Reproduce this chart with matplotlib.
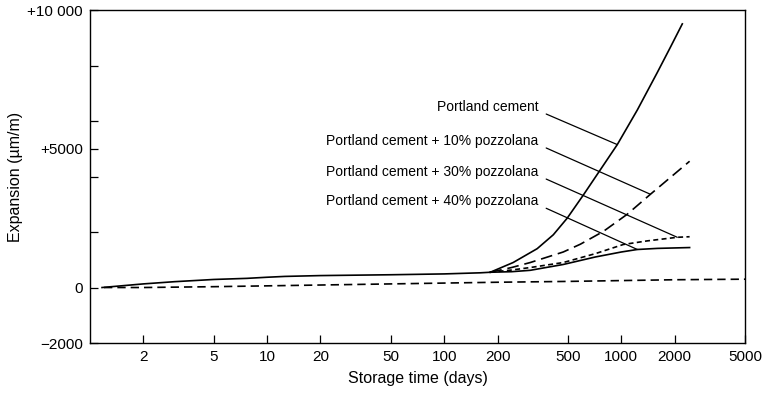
import numpy as np
import matplotlib
matplotlib.use("Agg")
import matplotlib.pyplot as plt
from matplotlib.ticker import FixedLocator, FixedFormatter, NullLocator

plt.rcParams['font.family'] = ['Liberation Sans', 'DejaVu Sans']

# common early part (all mixes together)
base_days = [1.17, 1.5, 2, 3, 5, 7.7, 10, 12.6, 20, 50, 100, 160, 182]
base_vals = [0, 60, 130, 210, 290, 330, 370, 400, 430, 460, 490, 530, 550]

pc_days = [182, 245, 335, 413, 495, 610, 791, 949, 1232, 1597, 1890, 2210]
pc_vals = [550, 900, 1400, 1900, 2500, 3330, 4400, 5150, 6400, 7750, 8650, 9500]

p10_days = [182, 240, 306, 470, 587, 791, 1080, 1460, 2430]
p10_vals = [550, 720, 900, 1280, 1560, 2020, 2640, 3360, 4550]

p30_days = [182, 240, 306, 470, 713, 1026, 1400, 2070, 2430]
p30_vals = [550, 630, 720, 900, 1220, 1550, 1680, 1810, 1830]

p40_days = [182, 240, 306, 470, 713, 1000, 1230, 1600, 2430]
p40_vals = [550, 570, 620, 830, 1100, 1280, 1370, 1410, 1440]

# lower dashed curve
low_days = [1.2, 2, 5, 10, 20, 50, 100, 200, 500, 1000, 2000, 5000]
low_vals = [0, 0, 30, 60, 90, 130, 160, 190, 220, 250, 280, 300]

labels = ["Portland cement", "Portland cement + 10% pozzolana",
          "Portland cement + 30% pozzolana", "Portland cement + 40% pozzolana"]
label_pos = [(340, 6500), (340, 5280), (340, 4160), (340, 3110)]
leader_end = [(949, 5150), (1460, 3360), (2070, 1810), (1232, 1370)]

xticks = [2, 5, 10, 20, 50, 100, 200, 500, 1000, 2000, 5000]
yticks = [-2000, 0, 2000, 4000, 5000, 6000, 8000, 10000]
ylabels = ["\u22122000", "0", "", "", "+5000", "", "", "+10 000"]

fig = plt.figure(figsize=(7.65, 3.94), dpi=100)
ax = fig.add_axes([0.1176, 0.1294, 0.974 - 0.1176, 0.9746 - 0.1294])

lw = 1.2
ax.plot(base_days, base_vals, color='black', lw=lw)
ax.plot(pc_days, pc_vals, color='black', lw=lw)
ax.plot(p10_days, p10_vals, color='black', lw=lw, dashes=(7, 3.5))
ax.plot(p30_days, p30_vals, color='black', lw=lw, dashes=(3, 2))
ax.plot(p40_days, p40_vals, color='black', lw=lw)
ax.plot(low_days, low_vals, color='black', lw=lw, dashes=(5, 3))

for lab, pos, end in zip(labels, label_pos, leader_end):
    ax.annotate(lab, xy=end, xytext=pos, ha='right', va='center', fontsize=10,
                arrowprops=dict(arrowstyle='-', lw=0.9, color='black',
                                relpos=(1.0, 0.25), shrinkA=4, shrinkB=0))

ax.set_xscale('log')
ax.set_xlim(1, 5000)
ax.set_ylim(-2000, 10000)
ax.xaxis.set_major_locator(FixedLocator(xticks))
ax.xaxis.set_major_formatter(FixedFormatter([str(t) for t in xticks]))
ax.xaxis.set_minor_locator(NullLocator())
ax.yaxis.set_major_locator(FixedLocator(yticks))
ax.yaxis.set_major_formatter(FixedFormatter(ylabels))
ax.tick_params(direction='in', length=6, width=0.9, labelsize=11, pad=5)
for s in ax.spines.values():
    s.set_linewidth(1.0)

ax.set_xlabel("Storage time (days)", fontsize=11.5, labelpad=5)
ax.set_ylabel("Expansion (\u00b5m/m)", fontsize=11.5, labelpad=3)

fig.savefig("out.png", dpi=100)
